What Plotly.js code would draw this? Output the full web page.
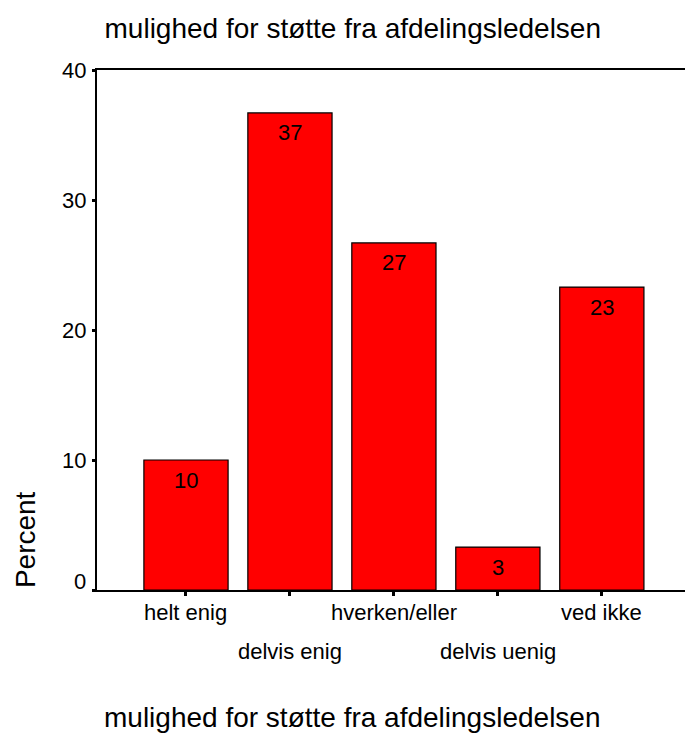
<!DOCTYPE html>
<html>
<head>
<meta charset="utf-8">
<script src="https://cdn.plot.ly/plotly-3.0.1.min.js"></script>
<style>html,body{margin:0;padding:0;background:#fff;}#chart{width:685px;height:736px;}</style>
</head>
<body>
<div id="chart"></div>
<script>
var categories = ["helt enig", "delvis enig", "hverken/eller", "delvis uenig", "ved ikke"];
var percentValues = [10, 36.7, 26.7, 3.3, 23.3];
var barLabels = ["10", "37", "27", "3", "23"];
var yTickValues = [0, 10, 20, 30, 40];
var yTickLabels = ["0", "10", "20", "30", "40"];
var chartTitle = "mulighed for støtte fra afdelingsledelsen";
var xTitle = "mulighed for støtte fra afdelingsledelsen";
var yTitle = "Percent";

var FONT = "Liberation Sans, Arial, sans-serif";
var idx = categories.map(function(c, i){ return i; });

var trace = {
  type: "bar",
  x: idx,
  y: percentValues,
  width: 0.81,
  marker: {color: "#ff0000", line: {color: "#000", width: 1.2}},
  hoverinfo: "none"
};

var annotations = [];
// bar value labels
percentValues.forEach(function(v, i){
  annotations.push({
    x: i, xref: "x", y: v, yref: "y",
    text: barLabels[i], showarrow: false,
    xanchor: "center", yanchor: "middle", yshift: -20,
    font: {family: FONT, size: 22, color: "#000"}
  });
});
// category labels (staggered)
categories.forEach(function(c, i){
  annotations.push({
    x: i, xref: "x", y: 0, yref: "paper",
    text: c, showarrow: false,
    xanchor: "center", yanchor: "middle",
    yshift: (i % 2 === 0) ? -22 : -61,
    font: {family: FONT, size: 22, color: "#000"}
  });
});
// y tick labels
yTickValues.forEach(function(v, i){
  annotations.push({
    x: 0, xref: "paper", y: v, yref: "y",
    text: yTickLabels[i], showarrow: false,
    xanchor: "right", yanchor: "middle",
    xshift: -9, yshift: (v === 0) ? 9 : 0,
    font: {family: FONT, size: 22, color: "#000"}
  });
});
annotations.push({
  x: -0.1224, xref: "paper", y: 0.096, yref: "paper",
  text: yTitle, showarrow: false, textangle: -90,
  xanchor: "center", yanchor: "middle",
  font: {family: FONT, size: 28, color: "#000"}
});
annotations.push({
  x: 0.435, xref: "paper", y: -0.246, yref: "paper",
  text: xTitle, showarrow: false,
  xanchor: "center", yanchor: "middle",
  font: {family: FONT, size: 28, color: "#000"}
});

var layout = {
  width: 685, height: 736,
  margin: {l: 97, r: 0, t: 70, b: 146, pad: 0},
  paper_bgcolor: "#fff", plot_bgcolor: "#fff",
  showlegend: false,
  title: {
    text: chartTitle, x: 0.515, xanchor: "center",
    y: 1 - 28/736, yref: "container", yanchor: "middle",
    font: {family: FONT, size: 28, color: "#000"}
  },
  xaxis: {
    range: [-0.856, 4.80],
    tickvals: idx, showticklabels: false,
    ticks: "outside", ticklen: 4, tickwidth: 3, tickcolor: "#000",
    showline: true, linecolor: "#000", linewidth: 2, mirror: true,
    showgrid: false, zeroline: false, fixedrange: true
  },
  yaxis: {
    range: [0, 40],
    tickvals: yTickValues, showticklabels: false,
    ticks: "outside", ticklen: 3, tickwidth: 3, tickcolor: "#000",
    showline: true, linecolor: "#000", linewidth: 2,
    showgrid: false, zeroline: false, fixedrange: true
  },
  annotations: annotations
};

Plotly.newPlot("chart", [trace], layout, {staticPlot: true, displayModeBar: false});
</script>
</body>
</html>
